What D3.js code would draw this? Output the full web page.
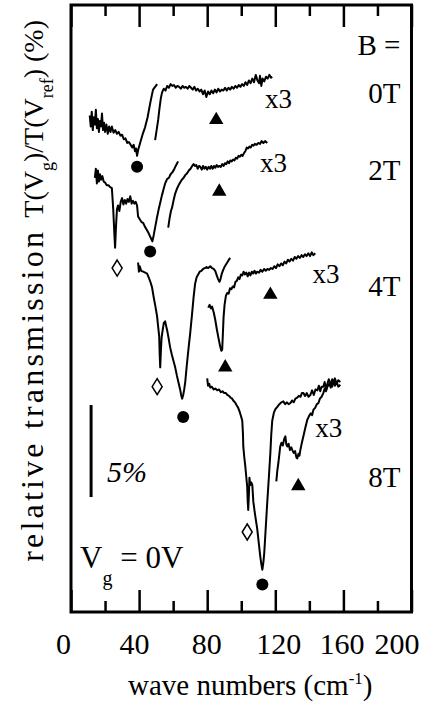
<!DOCTYPE html>
<html>
<head>
<meta charset="utf-8">
<script src="https://cdn.jsdelivr.net/npm/d3@7"></script>
<style>
  body { margin: 0; background: #fff; }
</style>
</head>
<body>
<div id="container"></div>
<script>

// field values and the vertical offset of each trace (in %)
var fields = ["0T", "2T", "4T", "8T"];
var offsets = [-6, -9.5, -14, -20.4];

// traces: [wave number (cm-1), relative change (%)] , "main" part and the "x3" part
var t0main = [[11.0,0.0],[11.6,-0.6],[12.2,0.2],[12.8,-0.8],[13.4,-0.1],[14.0,-0.5],[14.6,0.3],[15.2,-0.7],[15.8,-0.2],[16.4,-0.9],[17.0,-0.3],[17.6,-0.6],[18.2,0.1],[18.8,-0.8],[19.4,-0.4],[20.0,-0.9],[20.8,-0.5],[21.6,-1.0],[22.4,-0.6],[23.2,-0.9],[24.0,-0.6],[25.0,-0.95],[26.0,-0.8],[27.0,-1.0],[28.0,-0.9],[29.0,-1.1],[30.0,-1.05],[31.0,-1.3],[32.0,-1.25],[33.0,-1.5],[34.0,-1.45],[35.0,-1.6],[36.0,-1.75],[36.8,-1.6],[37.6,-1.95],[38.2,-1.8],[38.8,-2.2],[39.4,-1.9],[40.6,-1.5],[42.0,-1.05],[43.5,-0.65],[45.0,-0.1],[46.5,0.65],[47.5,1.1],[48.2,1.4],[49.4,1.55],[50.6,1.7]];
var t0x3 = [[49.4,-1.35],[50.3,-0.8],[51.2,-0.25],[52.0,0.4],[52.8,0.95],[53.5,1.25],[54.5,1.45],[55.5,1.35],[56.5,1.6],[57.5,1.5],[58.5,1.7],[59.5,1.6],[60.5,1.65],[61.5,1.5],[62.5,1.6],[63.5,1.55],[64.5,1.45],[65.5,1.6],[66.5,1.5],[67.5,1.55],[68.5,1.45],[69.5,1.6],[70.5,1.5],[71.5,1.4],[72.5,1.55],[73.5,1.35],[74.5,1.45],[75.5,1.3],[76.5,1.4],[77.5,1.15],[78.5,1.35],[79.5,1.0],[80.5,1.3],[81.5,1.15],[82.5,1.35],[83.5,1.2],[84.5,1.4],[85.5,1.25],[86.5,1.45],[87.5,1.3],[88.5,1.4],[89.5,1.35],[90.5,1.5],[91.5,1.35],[92.5,1.5],[93.5,1.4],[94.5,1.55],[95.5,1.45],[96.5,1.6],[97.5,1.5],[98.5,1.65],[99.5,1.55],[100.5,1.7],[101.5,1.6],[102.5,1.8],[103.5,1.65],[104.5,1.9],[105.5,1.75],[106.5,2.0],[107.5,1.8],[108.5,2.2],[109.5,1.9],[110.5,1.75],[111.0,2.15],[111.8,1.6],[112.5,2.0],[113.5,1.85],[114.5,2.1],[115.5,2.0],[116.5,2.2],[117.5,2.05],[118.2,2.1]];

var t2main = [[14.0,0.1],[14.6,0.6],[15.2,-0.2],[15.8,0.5],[16.4,-0.1],[17.0,0.3],[17.6,0.0],[18.4,0.2],[19.2,-0.1],[20.0,-0.15],[21.0,-0.3],[22.0,-0.3],[23.0,-0.4],[24.0,-0.45],[24.8,-1.6],[25.5,-3.0],[25.9,-3.7],[26.4,-2.6],[27.0,-1.6],[27.6,-1.4],[28.4,-1.7],[29.2,-1.2],[30.0,-1.0],[30.8,-1.35],[31.6,-1.1],[32.4,-1.3],[33.2,-1.05],[34.0,-1.2],[34.8,-0.9],[35.6,-1.3],[36.4,-1.15],[37.2,-1.3],[38.0,-1.2],[38.8,-1.4],[39.4,-2.0],[40.4,-2.15],[41.4,-2.3],[42.4,-2.35],[43.4,-2.55],[44.4,-2.7],[45.3,-2.85],[46.3,-3.05],[47.3,-3.25],[47.8,-3.35],[48.6,-3.0],[49.4,-2.6],[50.4,-2.1],[51.4,-1.65],[52.4,-1.25],[53.4,-0.85],[54.4,-0.5],[55.3,-0.2],[56.5,0.05],[57.5,0.1],[58.5,0.3],[59.5,0.4],[60.5,0.55],[61.5,0.75],[62.9,1.0]];
var t2x3 = [[57.1,-2.6],[57.9,-2.1],[58.7,-1.7],[59.4,-1.5],[60.3,-1.1],[61.2,-0.75],[62.2,-0.5],[63.2,-0.3],[64.1,-0.15],[65.1,0.0],[66.1,0.1],[67.1,0.25],[68.2,0.35],[69.2,0.5],[70.2,0.6],[71.2,0.75],[72.0,0.85],[72.8,0.75],[73.6,0.8],[74.4,0.6],[75.2,0.75],[76.0,0.7],[76.8,0.55],[77.6,0.75],[78.4,0.6],[79.2,0.7],[80.0,0.55],[80.8,0.7],[81.6,0.6],[82.4,0.75],[83.2,0.6],[84.0,0.75],[84.8,0.65],[85.6,0.8],[86.4,0.7],[87.2,0.75],[88.0,0.7],[88.8,0.85],[89.6,0.75],[90.4,0.9],[91.2,0.85],[92.0,1.0],[92.8,0.9],[93.6,1.05],[94.4,1.0],[95.2,1.1],[96.0,1.05],[96.8,1.2],[97.6,1.15],[98.4,1.3],[99.2,1.25],[100.0,1.35],[100.8,1.3],[101.6,1.45],[102.4,1.55],[103.2,1.75],[104.0,1.7],[104.8,1.8],[105.6,1.75],[106.4,1.9],[107.2,1.85],[108.0,1.95],[109.0,1.9],[110.0,2.0],[111.0,1.95],[112.0,2.1],[113.0,2.0],[114.0,2.1],[115.3,2.0]];

var t4main = [[39.4,0.0],[39.9,-0.5],[40.4,-0.2],[41.2,-0.45],[42.4,-0.5],[43.6,-0.55],[44.7,-0.6],[45.8,-0.85],[46.8,-1.1],[47.6,-1.35],[48.6,-1.9],[49.6,-2.4],[50.6,-2.95],[51.2,-3.5],[51.8,-4.0],[52.1,-5.0],[52.4,-5.7],[52.8,-4.8],[53.2,-4.1],[53.8,-3.7],[54.5,-3.3],[55.3,-3.2],[56.0,-3.5],[56.5,-3.7],[57.3,-4.1],[58.2,-4.6],[59.2,-5.0],[60.2,-5.35],[61.2,-5.7],[62.2,-6.15],[63.2,-6.55],[64.1,-6.9],[64.8,-7.25],[65.3,-7.4],[65.9,-7.2],[66.5,-6.9],[67.1,-6.5],[68.0,-5.6],[69.0,-4.7],[70.0,-3.85],[71.0,-2.9],[72.0,-1.9],[72.9,-1.15],[73.8,-0.8],[74.7,-0.65],[75.6,-0.5],[76.6,-0.45],[77.6,-0.35],[78.6,-0.3],[79.6,-0.25],[80.6,-0.3],[81.8,-0.2],[82.8,-0.3],[83.8,-0.35],[84.7,-0.45],[85.6,-0.7],[86.4,-0.9],[87.2,-1.05],[87.8,-0.9],[88.6,-0.6],[89.4,-0.4],[90.4,-0.2],[91.4,-0.05],[92.4,0.1],[93.5,0.25]];
var t4x3 = [[80.6,-2.45],[81.4,-2.3],[82.2,-2.5],[82.9,-2.4],[83.8,-2.7],[84.7,-3.1],[85.6,-3.6],[86.6,-4.1],[87.6,-4.55],[88.3,-4.8],[88.8,-4.75],[89.2,-3.9],[89.6,-3.0],[90.2,-2.3],[91.0,-1.8],[91.8,-1.65],[92.6,-1.7],[93.4,-1.4],[94.2,-1.45],[95.0,-1.3],[95.8,-1.35],[96.6,-1.05],[97.4,-1.0],[98.2,-0.8],[99.0,-0.9],[99.8,-0.65],[100.6,-0.7],[101.4,-0.5],[102.2,-0.65],[103.0,-0.55],[103.8,-0.75],[104.6,-0.55],[105.4,-0.7],[106.2,-0.5],[107.0,-0.6],[107.8,-0.45],[108.6,-0.6],[109.4,-0.5],[110.4,-0.55],[111.4,-0.4],[112.4,-0.5],[113.4,-0.35],[114.4,-0.45],[115.4,-0.35],[116.4,-0.4],[117.4,-0.3],[118.4,-0.35],[119.4,-0.2],[120.4,-0.3],[121.4,-0.1],[122.4,-0.2],[123.4,-0.05],[124.4,-0.15],[125.4,0.05],[126.4,-0.05],[127.4,0.15],[128.4,0.05],[129.4,0.2],[130.4,0.1],[131.4,0.3],[132.4,0.2],[133.4,0.35],[134.4,0.25],[135.4,0.4],[136.4,0.3],[137.4,0.45],[138.4,0.35],[139.4,0.5],[140.4,0.35],[141.4,0.55],[142.4,0.4],[143.5,0.5]];

var t8main = [[80.0,0.1],[80.5,-0.3],[81.2,-0.2],[81.8,-0.4],[82.8,-0.35],[83.8,-0.5],[84.8,-0.45],[85.9,-0.55],[87.0,-0.5],[88.0,-0.65],[89.0,-0.6],[90.0,-0.7],[91.0,-0.7],[91.8,-0.8],[92.8,-0.85],[93.8,-0.95],[94.6,-1.0],[95.3,-1.1],[96.3,-1.2],[97.2,-1.35],[98.2,-1.5],[99.2,-1.75],[100.0,-2.0],[100.6,-2.2],[101.0,-2.9],[101.2,-3.6],[101.8,-4.2],[102.4,-4.7],[103.0,-5.3],[103.5,-5.8],[103.8,-6.6],[104.1,-7.05],[104.5,-6.2],[104.8,-5.3],[105.3,-5.7],[105.9,-5.55],[106.5,-5.7],[107.1,-6.6],[107.8,-7.1],[108.6,-7.6],[109.4,-8.1],[110.3,-8.85],[111.2,-9.6],[111.8,-10.0],[112.4,-10.3],[113.0,-9.9],[113.5,-9.4],[114.4,-8.0],[115.3,-6.6],[116.2,-5.3],[117.1,-3.95],[117.6,-3.0],[118.2,-2.2],[119.2,-1.75],[120.2,-1.55],[121.2,-1.45],[122.4,-1.3],[123.6,-1.2],[124.7,-1.15],[125.8,-1.3],[126.8,-1.2],[127.8,-1.3],[128.8,-1.25],[129.8,-1.1],[130.8,-1.2],[131.8,-1.0],[132.9,-0.95],[133.8,-0.85],[134.8,-0.9],[135.6,-0.7],[136.5,-0.7],[137.5,-0.85],[138.5,-0.7],[139.5,-0.9],[140.6,-0.8],[141.6,-0.55],[142.6,-0.8],[143.6,-0.5],[144.7,-0.55],[145.6,-0.3],[146.4,-0.6],[147.2,-0.35],[148.2,-0.35],[149.0,-0.1],[149.8,-0.5],[150.6,-0.2],[151.4,0.05],[152.4,-0.15],[153.4,-0.35],[154.2,0.0],[155.0,-0.3],[156.0,-0.1],[157.0,-0.35],[158.2,-0.25]];
var t8x3 = [[120.6,-5.5],[121.2,-4.9],[121.8,-4.5],[122.4,-4.0],[122.9,-3.6],[123.6,-3.4],[124.4,-3.55],[125.2,-3.2],[125.9,-3.05],[126.5,-3.5],[127.1,-3.6],[127.8,-3.45],[128.6,-3.8],[129.4,-3.65],[130.0,-3.8],[130.8,-3.95],[131.6,-3.85],[132.4,-4.2],[132.9,-4.25],[133.6,-4.0],[134.2,-4.1],[134.7,-3.8],[135.6,-3.4],[136.5,-3.05],[137.6,-2.6],[138.8,-2.15],[139.8,-1.95],[140.8,-1.8],[141.6,-1.9],[142.4,-1.6],[143.4,-1.5],[144.4,-1.3],[145.3,-1.25],[146.2,-1.0],[147.2,-0.9],[148.2,-0.7],[149.0,-0.45],[149.8,-0.6],[150.6,-0.35],[151.6,-0.2],[152.6,-0.4],[153.4,0.05],[154.1,-0.15],[155.0,0.1],[156.0,-0.2],[157.0,0.0],[158.2,-0.1]];

var traces = [[t0main, t0x3], [t2main, t2x3], [t4main, t4x3], [t8main, t8x3]];

// mode markers: [field index, wave number, %]
var circles = [[0, 38.8, -2.8], [1, 46.5, -3.9], [2, 65.9, -8.4], [3, 112.4, -11.1]];
var triangles = [[0, 85.3, -0.25], [1, 87.1, -0.65], [2, 90.6, -5.7], [2, 117.1, -1.75], [3, 133.5, -5.75]];
var diamonds = [[1, 27.1, -4.8], [2, 50.6, -6.75], [3, 103.5, -8.25]];

// "x3" label anchors: [field index, wave number, %]
var x3labels = [[0, 114, 0.4], [1, 111, 0.42], [2, 141.8, -1.1], [3, 143.5, -3.1]];
// field label baselines (absolute %)
var fieldLabelY = [-5.33, -9.52, -15.82, -26.2];

var majorTicks = [0, 40, 80, 120, 160, 200];
var minorTicks = [20, 60, 100, 140, 180];

var W = 435, H = 709;
var margin = {left: 71, right: 23.5, top: 5, bottom: 97};
var serif = "'Liberation Serif', 'Times New Roman', Tinos, 'DejaVu Serif', serif";
// hand placed tick labels in the original figure are not exactly centred on their ticks
var labelShift = [-8, -5, -1, 3, -2, -15];

var svg = d3.select("#container").append("svg")
  .attr("width", W).attr("height", H)
  .style("font-family", serif);

var x = d3.scaleLinear().domain([0, 200]).range([margin.left, W - margin.right]);
var y = d3.scaleLinear().domain([-33, 0]).range([H - margin.bottom, margin.top]);

var line = d3.line()
  .x(function(d) { return x(d[0]); })
  .y(function(d) { return y(d[1]); });

// traces
traces.forEach(function(parts, i) {
  parts.forEach(function(p) {
    svg.append("path")
      .datum(p.map(function(d) { return [d[0], d[1] + offsets[i]]; }))
      .attr("fill", "none")
      .attr("stroke", "#000")
      .attr("stroke-width", 2)
      .attr("stroke-linejoin", "round")
      .attr("d", line);
  });
});

// markers
svg.selectAll("circle.mk").data(circles).join("circle")
  .attr("class", "mk")
  .attr("cx", function(d) { return x(d[1]); })
  .attr("cy", function(d) { return y(d[2] + offsets[d[0]]); })
  .attr("r", 6).attr("fill", "#000");

svg.selectAll("path.tri").data(triangles).join("path")
  .attr("class", "tri")
  .attr("d", d3.symbol().type(d3.symbolTriangle).size(90))
  .attr("transform", function(d) {
    return "translate(" + x(d[1]) + "," + y(d[2] + offsets[d[0]]) + ")";
  })
  .attr("fill", "#000");

svg.selectAll("path.dia").data(diamonds).join("path")
  .attr("class", "dia")
  .attr("d", "M0,-8L5,0L0,8L-5,0Z")
  .attr("transform", function(d) {
    return "translate(" + x(d[1]) + "," + y(d[2] + offsets[d[0]]) + ")";
  })
  .attr("fill", "#fff").attr("stroke", "#000").attr("stroke-width", 1.5);

// x3 labels
svg.selectAll("text.x3").data(x3labels).join("text")
  .attr("class", "x3")
  .attr("x", function(d) { return x(d[1]); })
  .attr("y", function(d) { return y(d[2] + offsets[d[0]]); })
  .style("font-family", serif)
  .style("font-size", "27px")
  .text("x3");

// field labels
svg.append("text")
  .attr("x", x(193.5)).attr("y", y(-2.72))
  .attr("text-anchor", "end")
  .style("font-family", serif)
  .style("font-size", "29px")
  .text("B =");
svg.selectAll("text.field").data(fields).join("text")
  .attr("class", "field")
  .attr("x", x(193.5))
  .attr("y", function(d, i) { return y(fieldLabelY[i]); })
  .attr("text-anchor", "end")
  .style("font-family", serif)
  .style("font-size", "29px")
  .text(function(d) { return d; });

// 5% scale bar
svg.append("line")
  .attr("x1", x(11.8)).attr("x2", x(11.8))
  .attr("y1", y(-21.75)).attr("y2", y(-26.75))
  .attr("stroke", "#000").attr("stroke-width", 3);
svg.append("text")
  .attr("x", x(21.2)).attr("y", y(-25.94))
  .style("font-family", serif)
  .style("font-size", "30px").style("font-style", "italic")
  .text("5%");

// Vg = 0V
var vg = svg.append("text")
  .attr("x", x(5.3)).attr("y", y(-30.6))
  .style("font-family", serif)
  .style("font-size", "31px");
vg.append("tspan").text("V");
vg.append("tspan").attr("dy", 17).style("font-size", "20px").text("g");
vg.append("tspan").attr("dy", -17).text(" = 0V");

// axes
svg.append("g")
  .attr("transform", "translate(0," + y.range()[0] + ")")
  .call(d3.axisBottom(x).tickValues(majorTicks).tickSizeInner(-22).tickSizeOuter(0).tickPadding(21).tickFormat(d3.format("d")))
  .call(function(g) {
    g.attr("font-family", null).attr("font-size", null);
    g.select(".domain").remove();
    g.selectAll("line").attr("stroke-width", 2.5);
    g.selectAll("text")
      .attr("dx", function(d, i) { return labelShift[i]; })
      .style("font-family", serif).style("font-size", "30px");
  });
svg.append("g")
  .attr("transform", "translate(0," + y.range()[0] + ")")
  .call(d3.axisBottom(x).tickValues(minorTicks).tickSizeInner(-11).tickSizeOuter(0).tickFormat(""))
  .call(function(g) {
    g.select(".domain").remove();
    g.selectAll("line").attr("stroke-width", 2.5);
  });
svg.append("g")
  .attr("transform", "translate(0," + y.range()[1] + ")")
  .call(d3.axisTop(x).tickValues(majorTicks).tickSizeInner(-22).tickSizeOuter(0).tickFormat(""))
  .call(function(g) {
    g.select(".domain").remove();
    g.selectAll("line").attr("stroke-width", 2.5);
  });
svg.append("g")
  .attr("transform", "translate(0," + y.range()[1] + ")")
  .call(d3.axisTop(x).tickValues(minorTicks).tickSizeInner(-11).tickSizeOuter(0).tickFormat(""))
  .call(function(g) {
    g.select(".domain").remove();
    g.selectAll("line").attr("stroke-width", 2.5);
  });

// frame
svg.append("rect")
  .attr("x", x.range()[0]).attr("y", y.range()[1])
  .attr("width", x.range()[1] - x.range()[0])
  .attr("height", y.range()[0] - y.range()[1])
  .attr("fill", "none").attr("stroke", "#000").attr("stroke-width", 3);

// axis titles
var xt = svg.append("text")
  .attr("x", (x.range()[0] + x.range()[1]) / 2 + 9).attr("y", 695)
  .attr("text-anchor", "middle")
  .style("font-family", serif)
  .style("font-size", "29px");
xt.append("tspan").text("wave numbers (cm");
xt.append("tspan").attr("dy", -11).style("font-size", "17px").text("-1");
xt.append("tspan").attr("dy", 11).text(")");

// y title, anchored at its top end (screen y = 20)
var yt = svg.append("text")
  .attr("transform", "translate(43,20) rotate(-90)")
  .attr("text-anchor", "end")
  .style("font-family", serif)
  .style("font-size", "28px");
yt.append("tspan").style("font-size", "32px").style("letter-spacing", "3.2px").text("relative transmission  ");
yt.append("tspan").text("T(V");
yt.append("tspan").attr("dy", 10).style("font-size", "18px").text("g");
yt.append("tspan").attr("dy", -10).text(")/T(V");
yt.append("tspan").attr("dy", 10).style("font-size", "18px").text("ref");
yt.append("tspan").attr("dy", -10).text(") (%)");

</script>
</body>
</html>
